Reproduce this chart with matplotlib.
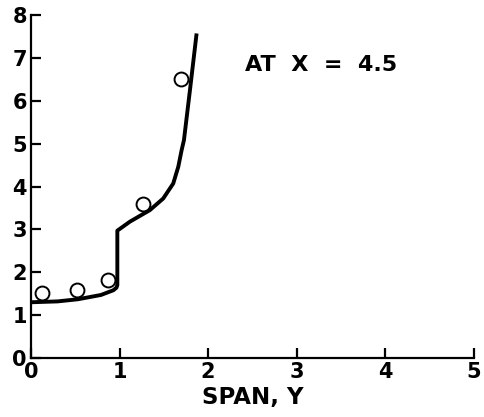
import matplotlib
matplotlib.use("Agg")
import matplotlib.pyplot as plt

# Measured data points (circles)
pts_y = [0.12, 0.52, 0.87, 1.27, 1.69]
pts_v = [1.51, 1.58, 1.82, 3.59, 6.51]

# Theory curve
line_y = [0.0, 0.30, 0.53, 0.79, 0.93, 0.965, 0.975, 0.975, 1.117, 1.343, 1.493, 1.606, 1.663, 1.701, 1.727, 1.795, 1.870]
line_v = [1.30, 1.32, 1.37, 1.47, 1.58, 1.64, 1.70, 2.97, 3.18, 3.45, 3.72, 4.07, 4.46, 4.85, 5.08, 6.25, 7.57]

xticks = [0, 1, 2, 3, 4, 5]
yticks = [0, 1, 2, 3, 4, 5, 6, 7, 8]

plt.rcParams['font.family'] = ['DejaVu Sans']
plt.rcParams['font.weight'] = 'bold'

fig = plt.figure(figsize=(4.84, 4.17), dpi=100)
ax = fig.add_axes([0.064, 0.1415, 0.915, 0.8225])

ax.plot(line_y, line_v, color='black', lw=2.8, solid_joinstyle='round', solid_capstyle='butt')
ax.plot(pts_y, pts_v, linestyle='none', marker='o', markersize=10, markerfacecolor='white',
        markeredgecolor='black', markeredgewidth=1.4)

ax.set_xlim(0, 5)
ax.set_ylim(0, 8)
ax.set_xticks(xticks)
ax.set_yticks(yticks)
ax.set_xticklabels([str(v) for v in xticks], fontsize=15, fontweight='bold')
ax.set_yticklabels([str(v) for v in yticks], fontsize=15, fontweight='bold')
ax.tick_params(direction='in', length=7, width=1.6, pad=3)
for s in ['top', 'right']:
    ax.spines[s].set_visible(False)
for s in ['left', 'bottom']:
    ax.spines[s].set_linewidth(1.6)

ax.set_xlabel('SPAN, Y', fontsize=16.5, fontweight='bold', labelpad=3)
ax.text(2.415, 6.83, 'AT  X  =  4.5', fontsize=16, fontweight='bold', va='center', ha='left')

fig.savefig('out.png', dpi=100)
